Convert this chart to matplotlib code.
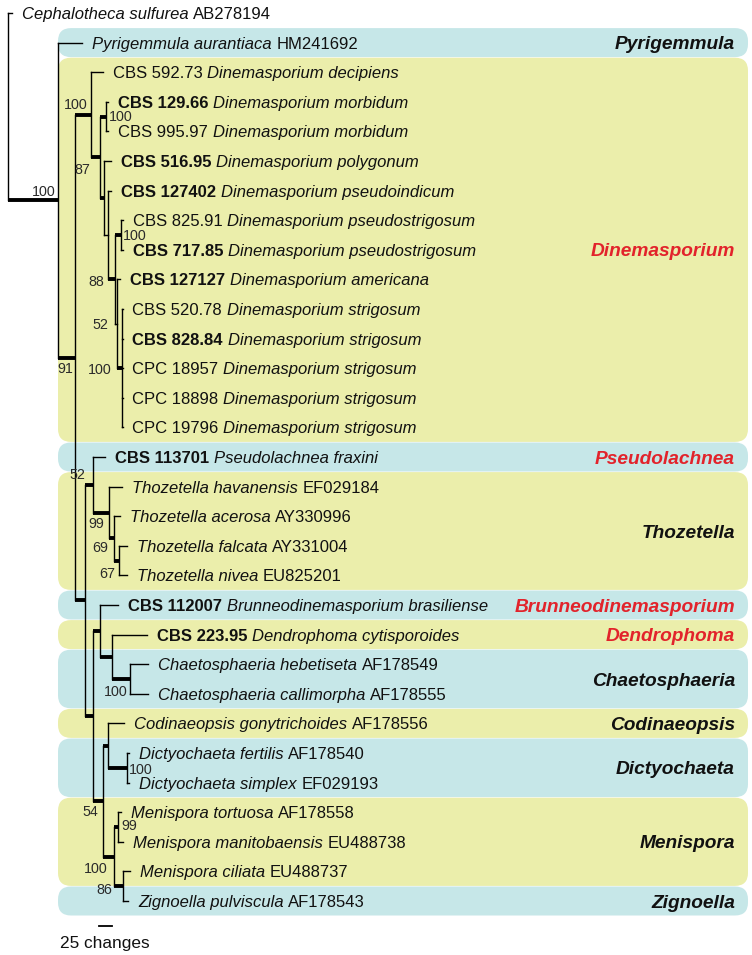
import matplotlib
matplotlib.use("Agg")
import matplotlib.pyplot as plt
from matplotlib.patches import FancyBboxPatch

plt.rcParams['font.family'] = ['Liberation Sans', 'DejaVu Sans']

# ---- tips (top to bottom) ----
tip_strain = ["", "", "CBS 592.73", "CBS 129.66", "CBS 995.97", "CBS 516.95", "CBS 127402",
              "CBS 825.91", "CBS 717.85", "CBS 127127", "CBS 520.78", "CBS 828.84", "CPC 18957",
              "CPC 18898", "CPC 19796", "CBS 113701", "", "", "", "", "CBS 112007", "CBS 223.95",
              "", "", "", "", "", "", "", "", ""]
bold_strains = ["CBS 129.66", "CBS 516.95", "CBS 127402", "CBS 717.85", "CBS 127127",
                "CBS 828.84", "CBS 113701", "CBS 112007", "CBS 223.95"]
tip_species = ["Cephalotheca sulfurea", "Pyrigemmula aurantiaca", "Dinemasporium decipiens",
               "Dinemasporium morbidum", "Dinemasporium morbidum", "Dinemasporium polygonum",
               "Dinemasporium pseudoindicum", "Dinemasporium pseudostrigosum",
               "Dinemasporium pseudostrigosum", "Dinemasporium americana",
               "Dinemasporium strigosum", "Dinemasporium strigosum", "Dinemasporium strigosum",
               "Dinemasporium strigosum", "Dinemasporium strigosum", "Pseudolachnea fraxini",
               "Thozetella havanensis", "Thozetella acerosa", "Thozetella falcata",
               "Thozetella nivea", "Brunneodinemasporium brasiliense", "Dendrophoma cytisporoides",
               "Chaetosphaeria hebetiseta", "Chaetosphaeria callimorpha",
               "Codinaeopsis gonytrichoides", "Dictyochaeta fertilis", "Dictyochaeta simplex",
               "Menispora tortuosa", "Menispora manitobaensis", "Menispora ciliata",
               "Zignoella pulviscula"]
tip_acc = ["AB278194", "HM241692", "", "", "", "", "", "", "", "", "", "", "", "", "", "",
           "EF029184", "AY330996", "AY331004", "EU825201", "", "", "AF178549", "AF178555",
           "AF178556", "AF178540", "EF029193", "AF178558", "EU488738", "EU488737", "AF178543"]
tip_parent = ['root', 'n58', 'd0', 'm', 'm', 'q', 'p', 'ps', 'ps', 'n52', 's', 's', 's', 's', 's',
              'n52b', 't99', 't69', 't67', 't67', 'nb', 'ndc', 'ch', 'ch', 'cd', 'dict', 'dict',
              'men', 'men', 'mz2', 'mz2']
tip_len = [8, 48, 24, 4, 4, 14, 6, 4, 4, 6, 1, 1, 1, 1, 1, 24, 26, 12, 16, 16, 36, 70, 36, 36,
           32, 4, 4, 6, 10, 14, 10]

# ---- internal nodes ----
node_name = ['root', 'n58', 'n75', 'd0', 'd1', 'm', 'q', 'p', 'n88', 'ps', 'n52', 's', 'l',
             'n52b', 't99', 't69', 't67', 'n', 'nb', 'ndc', 'ch', 'n54', 'cd', 'dict', 'mz',
             'men', 'mz2']
node_parent = [None, 'root', 'n58', 'n75', 'd0', 'd1', 'd1', 'q', 'p', 'n88', 'n88', 'n52', 'n75',
               'l', 'n52b', 't99', 't69', 'l', 'n', 'nb', 'ndc', 'n', 'n54', 'cd', 'n54', 'mz',
               'mz']
node_len = [0, 100, 34, 32, 18, 12, 8, 8, 14, 12, 4, 10, 20, 16, 32, 10, 10, 16, 14, 24, 36, 20,
            10, 38, 22, 8, 18]
node_support = ['', '100', '91', '100', '87', '100', '', '', '88', '100', '52', '100', '', '52',
                '99', '69', '67', '', '', '', '100', '54', '', '100', '100', '99', '86']
thin_branches = ['p', 'n52']

# ---- clade boxes ----
group_names = ['Pyrigemmula', 'Dinemasporium', 'Pseudolachnea', 'Thozetella',
               'Brunneodinemasporium', 'Dendrophoma', 'Chaetosphaeria', 'Codinaeopsis',
               'Dictyochaeta', 'Menispora', 'Zignoella']
group_first = [1, 2, 15, 16, 20, 21, 22, 24, 25, 27, 30]
group_last = [1, 14, 15, 19, 20, 21, 23, 24, 26, 29, 30]
new_genera = ['Dinemasporium', 'Pseudolachnea', 'Brunneodinemasporium', 'Dendrophoma']

scale_changes = 25

# ---- layout / style ----
PX = 2.0        # changes per pixel
ROW = 29.6      # pixels per row
BLUE, YELLOW = '#c6e7e8', '#ebeeab'
RED = '#e2232b'
INK = '#111111'
TIP_FS, SUP_FS, GRP_FS = 12.0, 10.3, 13.8
THIN, THICK = 1.0, 2.8

# support label offsets in pixels (dx, dy down, ha)
sup_pos = {
    'n58': (-2, -8, 'right'), 'n75': (-2, 11, 'right'), 'd0': (-3, -10, 'right'),
    'd1': (-10, 13, 'right'), 'm': (3, 0, 'left'), 'ps': (2, 1, 'left'),
    'n88': (-11, 3, 'right'), 'n52': (-9, 1, 'right'), 's': (-10, 2, 'right'),
    'n52b': (-8, -10, 'right'), 't99': (-5, 11, 'right'), 't69': (-6, 10, 'right'),
    't67': (-4, 13, 'right'), 'ch': (-2, 13, 'right'), 'dict': (2, 2, 'left'),
    'n54': (-5, 11, 'right'), 'mz': (-6, 12, 'right'), 'men': (3, -1, 'left'),
    'mz2': (-11, 4, 'right'),
}

# ---- tree geometry ----
parent = dict(zip(node_name, node_parent))
length = dict(zip(node_name, node_len))
for i in range(len(tip_species)):
    parent[i] = tip_parent[i]
    length[i] = tip_len[i]

children = {n: [] for n in node_name}
for c, p in parent.items():
    if p is not None:
        children[p].append(c)

xpos = {}
def get_x(n):
    if n not in xpos:
        xpos[n] = 0 if parent[n] is None else get_x(parent[n]) + length[n]
    return xpos[n]

ypos = {}
def get_y(n):
    if n not in ypos:
        if isinstance(n, int):
            ypos[n] = n
        else:
            ys = [get_y(c) for c in children[n]]
            ypos[n] = (min(ys) + max(ys)) / 2
    return ypos[n]

for n in parent:
    get_x(n)
    get_y(n)

fig = plt.figure(figsize=(7.52, 9.55), dpi=100)
ax = fig.add_axes([0, 0, 1, 1])
ax.set_xlim(-8 * PX, (752 - 8) * PX)
ax.set_ylim((955 - 13) / ROW, -13 / ROW)
ax.axis('off')

# clade boxes
x_left = xpos['n58']
x_right = (748 - 8) * PX
for k, g in enumerate(group_names):
    y0 = group_first[k] - 0.49
    y1 = group_last[k] + 0.49
    box = FancyBboxPatch((x_left, y0), x_right - x_left, y1 - y0,
                         boxstyle="round,pad=0,rounding_size=%g" % (13 * PX),
                         mutation_aspect=(1 / ROW) / PX,
                         facecolor=BLUE if k % 2 == 0 else YELLOW, edgecolor='none', zorder=0)
    ax.add_patch(box)
    ax.text((735 - 8) * PX, (y0 + y1) / 2, g, ha='right', va='center_baseline',
            fontsize=GRP_FS, fontweight='bold', fontstyle='italic',
            color=RED if g in new_genera else INK, zorder=3)

# branches
for n, kids in children.items():
    ys = [ypos[c] for c in kids]
    ax.plot([xpos[n], xpos[n]], [min(ys), max(ys)], color='black', lw=THIN,
            solid_capstyle='projecting', zorder=2)
for c, p in parent.items():
    if p is None:
        continue
    thick = isinstance(c, str) and c not in thin_branches
    ax.plot([xpos[p], xpos[c]], [ypos[c], ypos[c]], color='black',
            lw=THICK if thick else THIN,
            solid_capstyle='butt' if thick else 'projecting', zorder=2)

# support values
for n, s in zip(node_name, node_support):
    if s:
        dx, dy, ha = sup_pos[n]
        ax.annotate(s, (xpos[n], ypos[n]), xytext=(dx, -dy), textcoords='offset pixels',
                    ha=ha, va='center', fontsize=SUP_FS, color='#2a2a2a', zorder=3)

# tip labels (mixed styles)
renderer = fig.canvas.get_renderer()
space = 0.28 * TIP_FS * 100 / 72
for i in range(len(tip_species)):
    parts = []
    if tip_strain[i]:
        parts.append((tip_strain[i], 'bold' if tip_strain[i] in bold_strains else 'normal', 'normal'))
    parts.append((tip_species[i], 'normal', 'italic'))
    if tip_acc[i]:
        parts.append((tip_acc[i], 'normal', 'normal'))
    off = 10
    for text, weight, style in parts:
        t = ax.annotate(text, (xpos[i], ypos[i]), xytext=(off, 0), textcoords='offset pixels',
                        ha='left', va='center_baseline', fontsize=TIP_FS, fontweight=weight,
                        fontstyle=style, color=INK, zorder=3)
        off += t.get_window_extent(renderer).width + space

# scale bar
sb_x = (99 - 8) * PX
sb_y = (926 - 13) / ROW
ax.plot([sb_x, sb_x + scale_changes], [sb_y, sb_y], color='black', lw=1.3)
ax.text(sb_x + scale_changes / 2, (943 - 13) / ROW, '%d changes' % scale_changes,
        ha='center', va='center', fontsize=12.4, color=INK)

fig.savefig('out.png', dpi=100, facecolor='white')
